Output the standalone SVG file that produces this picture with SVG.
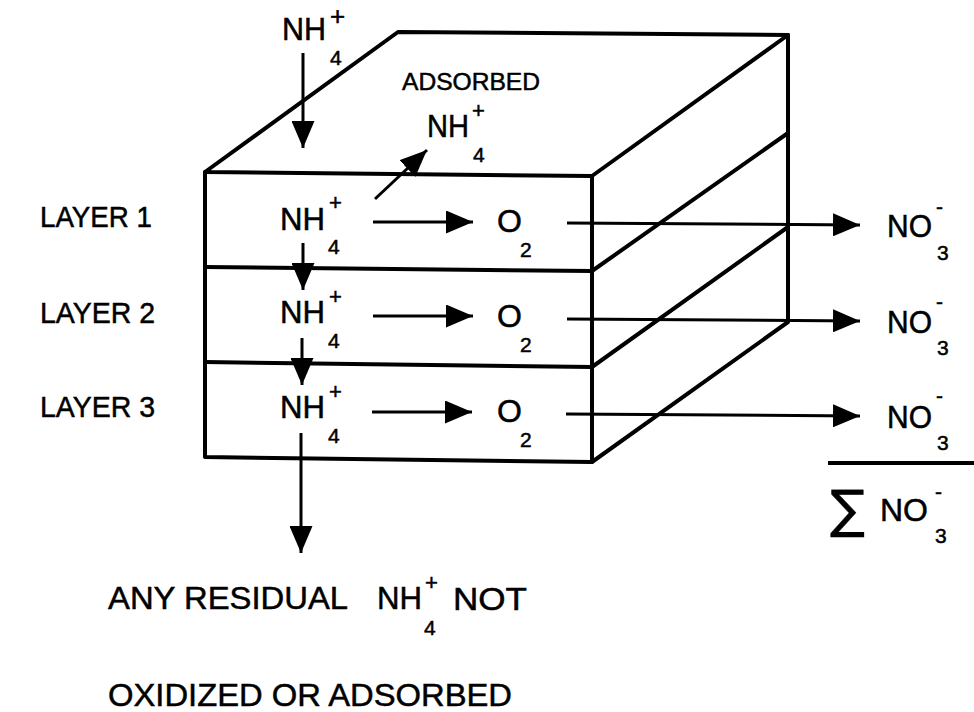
<svg xmlns="http://www.w3.org/2000/svg" width="974" height="712" viewBox="0 0 974 712">
<style>
  text { font-family: "Liberation Sans", Arial, sans-serif; fill: #000; stroke: #000; stroke-width: 0.5; }
  .big { font-size: 32px; }
  .lbl { font-size: 30px; }
  .sub { font-size: 21px; }
  .sup { font-size: 22px; }
  .edge { stroke: #000; stroke-width: 4; fill: none; stroke-linecap: round; stroke-linejoin: round; }
  .conn { stroke: #000; stroke-width: 3; fill: none; }
</style>
<defs>
  <marker id="ah" viewBox="0 0 27 23" refX="27" refY="11.5" markerWidth="27" markerHeight="23" markerUnits="userSpaceOnUse" orient="auto">
    <path d="M0,0 L27,11.5 L0,23 Z" fill="#000"/>
  </marker>
</defs>
<rect width="974" height="712" fill="#fff"/>

<g id="box">
  <path class="edge" d="M205,172 L398,32 L788,35 L592,176 Z"/>
  <path class="edge" d="M205,172 L205,457 L592,462 L592,176"/>
  <path class="edge" d="M788,35 L788,322 L592,462"/>
  <path class="edge" d="M205,267 L592,271 L788,133"/>
  <path class="edge" d="M205,362 L592,367 L788,227"/>
</g>

<g id="labels-layers">
  <text class="lbl" x="40" y="227" textLength="112" lengthAdjust="spacingAndGlyphs">LAYER 1</text>
  <text class="lbl" x="40" y="323" textLength="115" lengthAdjust="spacingAndGlyphs">LAYER 2</text>
  <text class="lbl" x="40" y="417" textLength="115" lengthAdjust="spacingAndGlyphs">LAYER 3</text>
</g>

<g id="nh4-top">
  <text class="big" x="282" y="40" textLength="44" lengthAdjust="spacingAndGlyphs">NH</text>
  <text class="sup" x="330" y="25" style="font-size:26px">+</text>
  <text class="sub" x="330" y="65">4</text>
</g>

<g id="nh4-adsorbed">
  <text x="402" y="90" style="font-size:24px" textLength="138" lengthAdjust="spacingAndGlyphs">ADSORBED</text>
  <text class="big" x="427" y="137" textLength="42" lengthAdjust="spacingAndGlyphs">NH</text>
  <text class="sup" x="472" y="118">+</text>
  <text class="sub" x="473" y="162">4</text>
</g>

<g id="layer1">
  <text class="big" x="280" y="230" textLength="45" lengthAdjust="spacingAndGlyphs">NH</text>
  <text class="sup" x="329" y="210">+</text>
  <text class="sub" x="328" y="254">4</text>
  <text class="big" x="497" y="232">O</text>
  <text class="sub" x="520" y="257">2</text>
</g>
<g id="layer2">
  <text class="big" x="280" y="323" textLength="45" lengthAdjust="spacingAndGlyphs">NH</text>
  <text class="sup" x="329" y="304">+</text>
  <text class="sub" x="328" y="348">4</text>
  <text class="big" x="497" y="327">O</text>
  <text class="sub" x="520" y="352">2</text>
</g>
<g id="layer3">
  <text class="big" x="280" y="418" textLength="45" lengthAdjust="spacingAndGlyphs">NH</text>
  <text class="sup" x="329" y="399">+</text>
  <text class="sub" x="328" y="443">4</text>
  <text class="big" x="497" y="422">O</text>
  <text class="sub" x="520" y="447">2</text>
</g>

<g id="no3-1">
  <text class="big" x="887" y="237" textLength="45" lengthAdjust="spacingAndGlyphs">NO</text>
  <text class="sub" x="936" y="214">-</text>
  <text class="sub" x="937" y="260">3</text>
</g>
<g id="no3-2">
  <text class="big" x="887" y="333" textLength="45" lengthAdjust="spacingAndGlyphs">NO</text>
  <text class="sub" x="936" y="309">-</text>
  <text class="sub" x="937" y="355">3</text>
</g>
<g id="no3-3">
  <text class="big" x="887" y="428" textLength="45" lengthAdjust="spacingAndGlyphs">NO</text>
  <text class="sub" x="936" y="403">-</text>
  <text class="sub" x="937" y="450">3</text>
</g>

<g id="sum">
  <line x1="828" y1="463" x2="974" y2="463" stroke="#000" stroke-width="4"/>
  <text x="830" y="527" style="font-size:52px; font-family:'DejaVu Sans', sans-serif; stroke-width:0.3">∑</text>
  <text class="big" x="880" y="521" textLength="48" lengthAdjust="spacingAndGlyphs">NO</text>
  <text class="sub" x="935" y="499">-</text>
  <text class="sub" x="935" y="543">3</text>
</g>

<g id="residual">
  <text class="big" x="108" y="609" textLength="240" lengthAdjust="spacingAndGlyphs">ANY RESIDUAL</text>
  <text class="big" x="377" y="609" textLength="45" lengthAdjust="spacingAndGlyphs">NH</text>
  <text class="sup" x="425" y="590">+</text>
  <text class="sub" x="424" y="635">4</text>
  <text class="big" x="453" y="610" textLength="74" lengthAdjust="spacingAndGlyphs">NOT</text>
  <text class="big" x="108" y="706" textLength="404" lengthAdjust="spacingAndGlyphs">OXIDIZED OR ADSORBED</text>
</g>

<g id="connectors">
  <line class="conn" x1="303" y1="53" x2="303" y2="148" marker-end="url(#ah)"/>
  <line class="conn" x1="375" y1="199" x2="427" y2="150" marker-end="url(#ah)"/>
  <line class="conn" x1="303" y1="243" x2="303" y2="290" marker-end="url(#ah)"/>
  <line class="conn" x1="302" y1="338" x2="302" y2="385" marker-end="url(#ah)"/>
  <line class="conn" x1="301" y1="433" x2="301" y2="553" marker-end="url(#ah)"/>
  <line class="conn" x1="373" y1="222" x2="473" y2="222" marker-end="url(#ah)"/>
  <line class="conn" x1="373" y1="316" x2="473" y2="316" marker-end="url(#ah)"/>
  <line class="conn" x1="372" y1="412" x2="472" y2="412" marker-end="url(#ah)"/>
  <line class="conn" x1="567" y1="223" x2="860" y2="225" marker-end="url(#ah)"/>
  <line class="conn" x1="567" y1="319" x2="860" y2="321" marker-end="url(#ah)"/>
  <line class="conn" x1="566" y1="414" x2="860" y2="416" marker-end="url(#ah)"/>
</g>
</svg>
